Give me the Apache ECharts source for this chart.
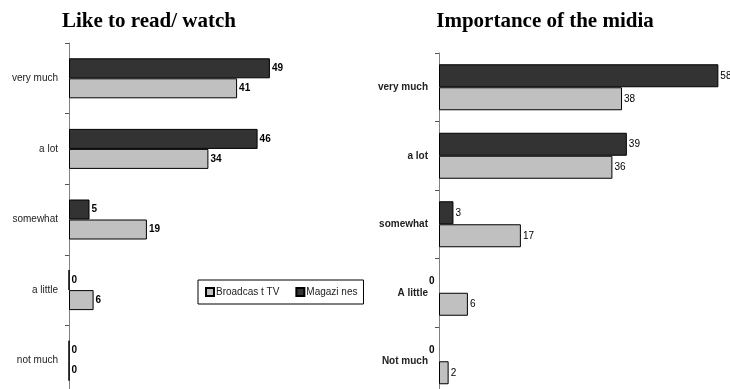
<!DOCTYPE html>
<html>
<head>
<meta charset="utf-8">
<script src="https://cdn.jsdelivr.net/npm/echarts@6/dist/echarts.min.js"></script>
<style>
  html, body { margin: 0; padding: 0; background: #fff; overflow: hidden; }
  /* the plot runs a little past the bottom edge of the page */
  #chart { width: 730px; height: 400px; }
</style>
</head>
<body>
<div id="chart"></div>
<script>
// Survey answers, top to bottom
const leftCategories = ['very much', 'a lot', 'somewhat', 'a little', 'not much'];
const rightCategories = ['very much', 'a lot', 'somewhat', 'A little', 'Not much'];

// "Like to read/ watch" (%)
const likeTV = [41, 34, 19, 6, 0];
const likeMagazines = [49, 46, 5, 0, 0];

// "Importance of the midia" (%)
const importanceTV = [38, 36, 17, 6, 2];
const importanceMagazines = [58, 39, 3, 0, 0];

const tvName = 'Broadcas t TV';
const magName = 'Magazi nes';

const TV_FILL = '#c0c0c0';
const MAG_FILL = '#333333';
const FONT = 'Liberation Sans, Arial, sans-serif';
const SERIF = 'Liberation Serif, Times New Roman, serif';

const chart = echarts.init(document.getElementById('chart'), null, { renderer: 'canvas' });

function catAxis(gridIndex, data, bold) {
  return {
    type: 'category',
    gridIndex: gridIndex,
    data: data,
    inverse: true,
    boundaryGap: true,
    axisLine: { show: true, lineStyle: { color: '#808080', width: 1 } },
    axisTick: { show: true, inside: false, length: 4, alignWithLabel: false, lineStyle: { color: '#555', width: 1 } },
    axisLabel: {
      margin: 11,
      fontSize: 10,
      fontFamily: FONT,
      fontWeight: bold ? 'bold' : 'normal',
      color: '#222'
    }
  };
}

function valAxis(gridIndex) {
  return {
    type: 'value', gridIndex: gridIndex, min: 0, max: 60, show: false,
    splitLine: { show: false }
  };
}

function barSeries(name, values, fill, axisIdx, barWidth, labelBold, zeroLeft) {
  return {
    type: 'bar',
    name: name,
    xAxisIndex: axisIdx,
    yAxisIndex: axisIdx,
    barWidth: barWidth,
    barGap: '0%',
    itemStyle: { color: fill, borderColor: '#000', borderWidth: 1 },
    label: {
      show: true, position: 'right', distance: 2,
      fontSize: 10, fontFamily: FONT,
      fontWeight: labelBold ? 'bold' : 'normal', color: '#000'
    },
    data: values.map(v => (zeroLeft && v === 0)
      ? { value: v, label: { position: 'left', distance: 4, fontWeight: 'bold' }, itemStyle: { borderColor: 'transparent' } }
      : v)
  };
}

chart.setOption({
  animation: false,
  title: [
    {
      text: 'Like to read/ watch', left: 149, top: 11, textAlign: 'center', padding: 0,
      textStyle: { fontFamily: SERIF, fontWeight: 'bold', fontSize: 21, color: '#000' }
    },
    {
      text: 'Importance of the midia', left: 545, top: 11, textAlign: 'center', padding: 0,
      textStyle: { fontFamily: SERIF, fontWeight: 'bold', fontSize: 21, color: '#000' }
    }
  ],
  legend: {
    data: [tvName, magName],
    left: 198, top: 280,
    orient: 'horizontal',
    icon: 'rect',
    itemWidth: 8, itemHeight: 8, itemGap: 16,
    padding: [7, 6, 7, 7],
    borderColor: '#000', borderWidth: 1,
    textStyle: { fontSize: 10, fontFamily: FONT, color: '#222', padding: [0, 0, 0, -3] }
  },
  grid: [
    { left: 69, top: 43, width: 246, height: 353 },
    { left: 439, top: 53, width: 289, height: 342.5 }
  ],
  xAxis: [valAxis(0), valAxis(1)],
  yAxis: [catAxis(0, leftCategories, false), catAxis(1, rightCategories, true)],
  series: [
    barSeries(magName, likeMagazines, MAG_FILL, 0, 20, true, false),
    barSeries(tvName, likeTV, TV_FILL, 0, 20, true, false),
    barSeries(magName, importanceMagazines, MAG_FILL, 1, 23, false, true),
    barSeries(tvName, importanceTV, TV_FILL, 1, 23, false, false)
  ]
});
</script>
</body>
</html>
